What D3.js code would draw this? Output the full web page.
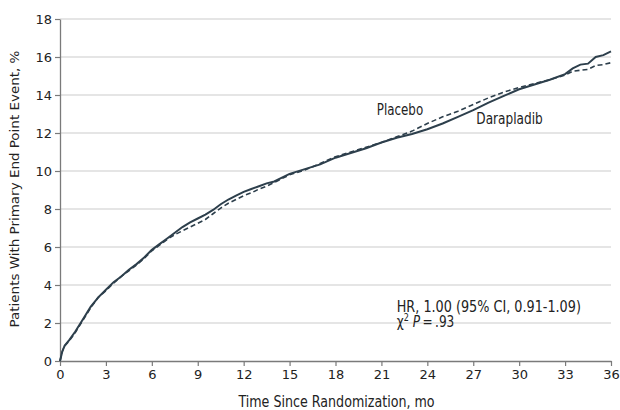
<!DOCTYPE html>
<html>
<head>
<meta charset="utf-8">
<script src="https://cdn.jsdelivr.net/npm/d3@7"></script>
<style>
  body { margin: 0; background: #fff; }
  text { font-family: "DejaVu Sans Condensed", "DejaVu Sans", sans-serif; fill: #222; }
</style>
</head>
<body>
<div id="chart"></div>
<script>
// Months since randomization and cumulative event rates (%)
const months     = [0, 0.15, 0.3, 0.6, 1, 1.5, 2, 2.5, 3, 3.5, 4, 4.5, 5, 5.5, 6, 6.5, 7, 7.5, 8, 8.5, 9, 9.5, 10, 10.5, 11, 11.5, 12, 12.5, 13, 13.5, 14, 14.5, 15, 16, 17, 18, 19, 20, 21, 22, 23, 24, 25, 26, 27, 28, 29, 30, 31, 32, 33, 33.5, 34, 34.5, 35, 35.5, 36];
const darapladib = [0, 0.5, 0.8, 1.1, 1.55, 2.2, 2.85, 3.35, 3.75, 4.15, 4.45, 4.8, 5.1, 5.45, 5.85, 6.15, 6.45, 6.75, 7.05, 7.3, 7.5, 7.7, 7.95, 8.25, 8.5, 8.7, 8.9, 9.05, 9.2, 9.35, 9.45, 9.65, 9.85, 10.1, 10.35, 10.7, 10.95, 11.2, 11.5, 11.75, 11.95, 12.2, 12.5, 12.85, 13.2, 13.6, 13.95, 14.3, 14.55, 14.8, 15.1, 15.4, 15.6, 15.65, 16.0, 16.1, 16.3];
const placebo    = [0, 0.5, 0.8, 1.05, 1.5, 2.15, 2.8, 3.35, 3.7, 4.1, 4.45, 4.75, 5.05, 5.4, 5.8, 6.1, 6.4, 6.65, 6.85, 7.05, 7.25, 7.45, 7.75, 8.05, 8.3, 8.5, 8.7, 8.85, 9.05, 9.2, 9.4, 9.6, 9.8, 10.05, 10.4, 10.75, 11.0, 11.25, 11.5, 11.8, 12.1, 12.5, 12.85, 13.15, 13.5, 13.85, 14.15, 14.4, 14.6, 14.8, 15.05, 15.25, 15.3, 15.35, 15.55, 15.6, 15.7];
const xTicks = d3.range(0, 37, 3);
const yTicks = d3.range(0, 19, 2);

var margin = { top: 19, right: 9, bottom: 49, left: 60 },
    width = 620 - margin.left - margin.right,
    height = 410 - margin.top - margin.bottom;

var svg = d3.select("#chart")
    .append("svg")
    .attr("width", 620)
    .attr("height", 410)
    .append("g")
    .attr("transform", "translate(" + margin.left + "," + margin.top + ")");

var x = d3.scaleLinear().domain([0, 36]).range([0, width]);
var y = d3.scaleLinear().domain([0, 18]).range([height, 0]);

// horizontally squeezed text, the figure looks narrowed
function label(px, py, size, sx) {
    return svg.append("text")
        .attr("transform", "translate(" + px + "," + py + ") scale(" + sx + ",1)")
        .style("font-size", size + "px");
}

// Gridlines
svg.append("g")
    .selectAll("line")
    .data(yTicks.filter(d => d > 0))
    .enter()
    .append("line")
    .attr("x1", 0)
    .attr("x2", width)
    .attr("y1", d => y(d))
    .attr("y2", d => y(d))
    .attr("stroke", "#dcdcdc")
    .attr("stroke-width", 1.5);

// Axes
var xAxis = svg.append("g")
    .attr("transform", "translate(0," + height + ")")
    .call(d3.axisBottom(x).tickValues(xTicks).tickSize(5).tickPadding(4).tickSizeOuter(0));
var yAxis = svg.append("g")
    .call(d3.axisLeft(y).tickValues(yTicks).tickSize(5).tickPadding(3).tickSizeOuter(0));

[xAxis, yAxis].forEach(a => {
    a.select(".domain").attr("stroke", "#7a7a7a").attr("stroke-width", 1.3);
    a.selectAll(".tick line").attr("stroke", "#7a7a7a").attr("stroke-width", 1.2);
    a.selectAll(".tick text")
        .style("font-family", "'DejaVu Sans', sans-serif")
        .style("font-size", "13px")
        .attr("fill", "#222");
});

// Axis titles
label(width / 2 + 1, height + 46, 15, 0.94)
    .attr("text-anchor", "middle")
    .text("Time Since Randomization, mo");

svg.append("text")
    .attr("text-anchor", "middle")
    .attr("transform", "translate(-41," + (height / 2 - 1) + ") rotate(-90) scale(1,0.86)")
    .style("font-size", "15px")
    .text("Patients With Primary End Point Event, %");

// Curves
var line = (vals) => d3.line()
    .x((d, i) => x(months[i]))
    .y(d => y(d))(vals);

svg.append("path")
    .attr("d", line(placebo))
    .attr("fill", "none")
    .attr("stroke", "#2d3f4c")
    .attr("stroke-width", 1.6)
    .attr("stroke-dasharray", "5,3");

svg.append("path")
    .attr("d", line(darapladib))
    .attr("fill", "none")
    .attr("stroke", "#2d3f4c")
    .attr("stroke-width", 2);

// Series labels
label(x(20.7), y(12.95), 15, 0.88).text("Placebo");
label(x(27.2), y(12.45), 15, 0.9).text("Darapladib");

// Hazard ratio note
label(x(22), y(2.58), 15, 0.95).text("HR, 1.00 (95% CI, 0.91-1.09)");

var p = label(x(22), y(1.78), 15, 0.9);
p.append("tspan").text("χ");
p.append("tspan").attr("dy", -6).style("font-size", "10px").text("2");
p.append("tspan").attr("dy", 6).text(" ");
p.append("tspan").style("font-style", "italic").text("P");
p.append("tspan").text("\u2009=\u2009.93");
</script>
</body>
</html>
